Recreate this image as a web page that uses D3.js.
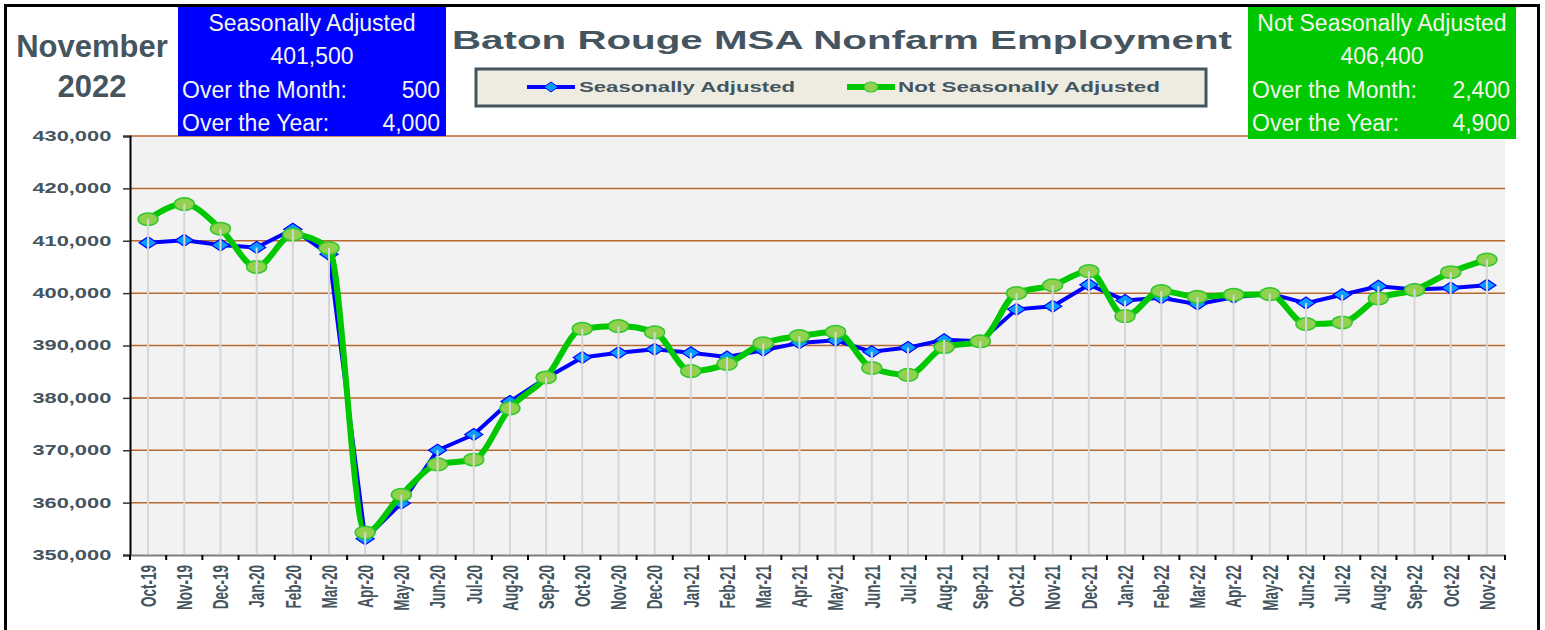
<!DOCTYPE html>
<html>
<head>
<meta charset="utf-8">
<script src="https://cdn.jsdelivr.net/npm/d3@7"></script>
<style>
	body { margin: 0; background: #fff; }
	svg { display: block; font-family: "Liberation Sans", Arial, sans-serif; }
</style>
</head>
<body>
<svg id="chart" width="1545" height="630"></svg>
<script>
const months = ["Oct-19", "Nov-19", "Dec-19",
	"Jan-20", "Feb-20", "Mar-20", "Apr-20", "May-20", "Jun-20", "Jul-20", "Aug-20", "Sep-20", "Oct-20", "Nov-20", "Dec-20",
	"Jan-21", "Feb-21", "Mar-21", "Apr-21", "May-21", "Jun-21", "Jul-21", "Aug-21", "Sep-21", "Oct-21", "Nov-21", "Dec-21",
	"Jan-22", "Feb-22", "Mar-22", "Apr-22", "May-22", "Jun-22", "Jul-22", "Aug-22", "Sep-22", "Oct-22", "Nov-22"];

const saValues = [409600, 410100, 409200,
	408700, 412200, 407400, 353100, 359900, 370000, 373000, 379300, 383800, 387700, 388600, 389300,
	388600, 387800, 389100, 390500, 391000, 388800, 389600, 391100, 390800, 396900, 397500, 401600,
	398600, 399100, 397900, 399200, 399900, 398100, 399700, 401300, 400700, 401000, 401500];

const nsaValues = [414100, 417000, 412300,
	405000, 411200, 408600, 354300, 361500, 367300, 368200, 378000, 383900, 393200, 393700, 392500,
	385100, 386500, 390400, 391800, 392600, 385700, 384400, 389700, 390800, 400000, 401500, 404200,
	395600, 400400, 399300, 399700, 399800, 394100, 394400, 399000, 400600, 404000, 406400];

const yTicks = [350000, 360000, 370000, 380000, 390000, 400000, 410000, 420000, 430000];

const periodLines = ["November", "2022"];
const chartTitle = "Baton Rouge MSA Nonfarm Employment";
const seriesNames = ["Seasonally Adjusted", "Not Seasonally Adjusted"];

const saHeader = ["Seasonally Adjusted", "401,500"];
const saRows = [["Over the Month:", "500"], ["Over the Year:", "4,000"]];
const nsaHeader = ["Not Seasonally Adjusted", "406,400"];
const nsaRows = [["Over the Month:", "2,400"], ["Over the Year:", "4,900"]];

const ink = "#455560";
const boxText = "#f4f4ec";
const saLine = "#0000ff", saFill = "#0a9bff";
const nsaLine = "#00c800", nsaFill = "#92d050";
const grid = "#b8692e";

const svg = d3.select("#chart");
const plot = { left: 130, right: 1505, top: 136, bottom: 555 };

const x = d3.scaleBand().domain(months).range([plot.left, plot.right]);
const y = d3.scaleLinear().domain([350000, 430000]).range([plot.bottom, plot.top]);
const cx = m => x(m) + x.bandwidth() / 2;

// outer frame
svg.append("rect")
	.attr("x", 5.5).attr("y", 5.5)
	.attr("width", 1533).attr("height", 700)
	.attr("fill", "none").attr("stroke", "#000").attr("stroke-width", 3);

// plot background + grid
svg.append("rect")
	.attr("x", plot.left).attr("y", plot.top)
	.attr("width", plot.right - plot.left).attr("height", plot.bottom - plot.top)
	.attr("fill", "#f2f2f2");

svg.append("g").selectAll("line")
	.data(yTicks.slice(1))
	.enter()
	.append("line")
	.attr("x1", plot.left).attr("x2", plot.right)
	.attr("y1", d => y(d)).attr("y2", d => y(d))
	.attr("stroke", grid).attr("stroke-width", 1.5);

// y axis
const yAxis = svg.append("g")
	.attr("transform", `translate(${plot.left},0)`)
	.call(d3.axisLeft(y).tickValues(yTicks).tickSize(7).tickFormat(d3.format(",")));
yAxis.select(".domain").attr("stroke", "#000").attr("stroke-width", 2);
yAxis.selectAll(".tick line").attr("stroke", "#333").attr("stroke-width", 1.5);
yAxis.selectAll(".tick text")
	.attr("x", -12)
	.attr("fill", ink)
	.attr("font-size", 14).attr("font-weight", "bold")
	.attr("font-family", "'Liberation Sans', Arial, sans-serif")
	.attr("transform", "scale(1.56,1)");

// x axis
const xAxis = svg.append("g")
	.attr("transform", `translate(0,${plot.bottom})`)
	.call(d3.axisBottom(x).tickSize(0));
xAxis.select(".domain").attr("stroke", "#7f7f7f").attr("stroke-width", 2);
xAxis.selectAll(".tick text")
	.attr("x", -10).attr("y", 0).attr("dy", "0.36em")
	.attr("text-anchor", "end")
	.attr("fill", ink)
	.attr("font-size", 13.5).attr("font-weight", "bold")
	.attr("font-family", "'Liberation Sans', Arial, sans-serif")
	.attr("transform", "scale(1.6,1) rotate(-90)");

xAxis.append("g").selectAll("line")
	.data(months.map(m => x(m)).concat([plot.right]))
	.enter()
	.append("line")
	.attr("x1", d => d).attr("x2", d => d)
	.attr("y1", 0).attr("y2", 5)
	.attr("stroke", "#000").attr("stroke-width", 2);

// series
const saPath = d3.line().x((d, i) => cx(months[i])).y(d => y(d));
const nsaPath = d3.line().x((d, i) => cx(months[i])).y(d => y(d)).curve(d3.curveMonotoneX);

svg.append("path")
	.datum(saValues)
	.attr("d", saPath)
	.attr("fill", "none").attr("stroke", saLine).attr("stroke-width", 4);

const diamond = "M-9,0L0,-6L9,0L0,6Z";
svg.append("g").selectAll("path")
	.data(saValues)
	.enter()
	.append("path")
	.attr("d", diamond)
	.attr("transform", (d, i) => `translate(${cx(months[i])},${y(d)})`)
	.attr("fill", saFill).attr("stroke", saLine).attr("stroke-width", 1.2);

svg.append("path")
	.datum(nsaValues)
	.attr("d", nsaPath)
	.attr("fill", "none").attr("stroke", nsaLine).attr("stroke-width", 6)
	.attr("stroke-linejoin", "round");

svg.append("g").selectAll("ellipse")
	.data(nsaValues)
	.enter()
	.append("ellipse")
	.attr("cx", (d, i) => cx(months[i]))
	.attr("cy", d => y(d))
	.attr("rx", 10).attr("ry", 6.3)
	.attr("fill", nsaFill).attr("stroke", "#2cc82c").attr("stroke-width", 1.5);

// drop lines sit above the markers
svg.append("g").selectAll("line")
	.data(months)
	.enter()
	.append("line")
	.attr("x1", d => cx(d)).attr("x2", d => cx(d))
	.attr("y1", (d, i) => y(Math.max(saValues[i], nsaValues[i])))
	.attr("y2", plot.bottom - 1)
	.attr("stroke", "#d6d6d6").attr("stroke-width", 2);

// header: period
svg.append("g").selectAll("text")
	.data(periodLines)
	.enter()
	.append("text")
	.attr("x", 92)
	.attr("y", (d, i) => 57 + i * 40)
	.attr("text-anchor", "middle")
	.attr("font-size", 31).attr("font-weight", "bold")
	.attr("fill", ink)
	.text(d => d);

// header: title
svg.append("text")
	.attr("x", 452).attr("y", 49)
	.attr("textLength", 780).attr("lengthAdjust", "spacingAndGlyphs")
	.attr("font-size", 25).attr("font-weight", "bold")
	.attr("fill", ink)
	.text(chartTitle);

// legend
const legend = svg.append("g");
legend.append("rect")
	.attr("x", 476).attr("y", 69).attr("width", 730).attr("height", 37)
	.attr("fill", "#eeece1").attr("stroke", ink).attr("stroke-width", 3);

const legendItems = [
	{ name: seriesNames[0], x0: 527, tx: 579, tw: 216, stroke: saLine, sw: 4, kind: "diamond" },
	{ name: seriesNames[1], x0: 847, tx: 898, tw: 262, stroke: nsaLine, sw: 6, kind: "ellipse" }
];
legendItems.forEach(it => {
	legend.append("line")
		.attr("x1", it.x0).attr("x2", it.x0 + 48)
		.attr("y1", 87).attr("y2", 87)
		.attr("stroke", it.stroke).attr("stroke-width", it.sw);
	if (it.kind === "diamond") {
		legend.append("path")
			.attr("d", "M-7,0L0,-5L7,0L0,5Z")
			.attr("transform", `translate(${it.x0 + 24},87)`)
			.attr("fill", saFill).attr("stroke", saLine).attr("stroke-width", 1);
	} else {
		legend.append("ellipse")
			.attr("cx", it.x0 + 24).attr("cy", 87)
			.attr("rx", 7).attr("ry", 5)
			.attr("fill", nsaFill).attr("stroke", "#2cc82c").attr("stroke-width", 1.2);
	}
	legend.append("text")
		.attr("x", it.tx).attr("y", 92)
		.attr("textLength", it.tw).attr("lengthAdjust", "spacingAndGlyphs")
		.attr("font-size", 15).attr("font-weight", "bold")
		.attr("fill", ink)
		.text(it.name);
});

// summary boxes
function summaryBox(x0, x1, y1, fill, header, rows) {
	const g = svg.append("g");
	const mid = (x0 + x1) / 2;
	g.append("rect")
		.attr("x", x0).attr("y", 7)
		.attr("width", x1 - x0).attr("height", y1 - 7)
		.attr("fill", fill);
	g.selectAll(".head")
		.data(header)
		.enter()
		.append("text")
		.attr("x", mid)
		.attr("y", (d, i) => 31 + i * 33)
		.attr("text-anchor", "middle")
		.attr("font-size", 23).attr("fill", boxText)
		.text(d => d);
	rows.forEach((r, i) => {
		g.append("text")
			.attr("x", x0 + 4).attr("y", 98 + i * 33)
			.attr("font-size", 23).attr("fill", boxText)
			.text(r[0]);
		g.append("text")
			.attr("x", x1 - 6).attr("y", 98 + i * 33)
			.attr("text-anchor", "end")
			.attr("font-size", 23).attr("fill", boxText)
			.text(r[1]);
	});
}

summaryBox(178, 446, 136, "#0000ff", saHeader, saRows);
summaryBox(1248, 1516, 139, "#00c800", nsaHeader, nsaRows);
</script>
</body>
</html>
